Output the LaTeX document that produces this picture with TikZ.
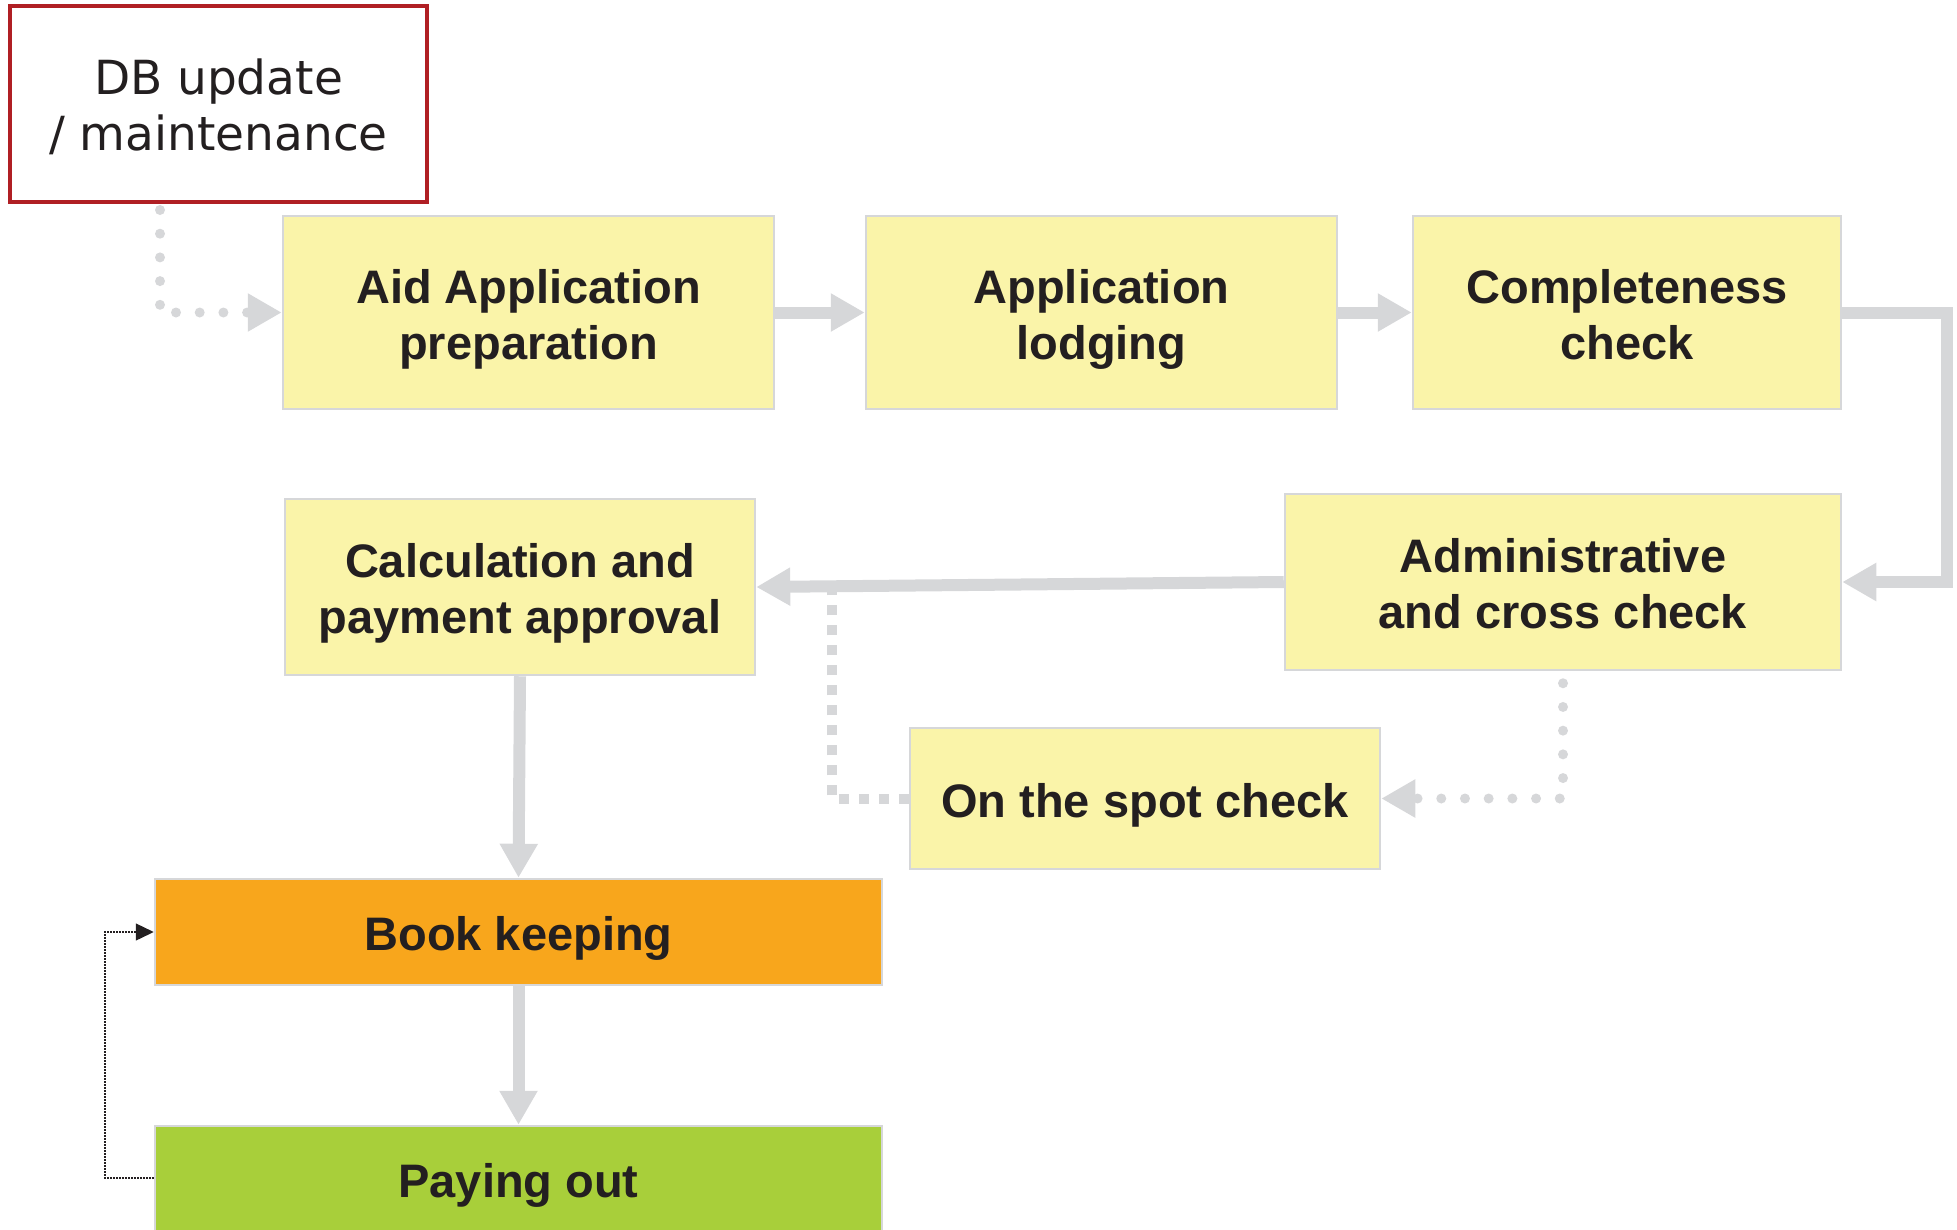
\documentclass[tikz,border=0pt]{standalone}
\usepackage{fontspec}
\setmainfont{Liberation Sans}
\newfontfamily\dbfont{DejaVu Sans}
\usetikzlibrary{arrows.meta,positioning,calc}
\definecolor{ink}{HTML}{231F20}
\definecolor{pale}{HTML}{FAF4A9}
\definecolor{bookcol}{HTML}{F8A61C}
\definecolor{paycol}{HTML}{A8CF3A}
\definecolor{edge}{HTML}{D6D7D9}
\definecolor{dbred}{HTML}{B01F24}
\tikzset{
  lift/.style={execute at begin node={\rule[-10pt]{0pt}{#1}}},
  box/.style={draw=edge, fill=pale, line width=2.5pt, align=center, inner sep=0pt,
              text=ink, font=\fontsize{47}{56}\selectfont\bfseries, lift=57pt},
  twobox/.style={box, lift=113pt},
  dbbox/.style={box, draw=dbred, fill=white, line width=4pt,
                font=\fontsize{47}{56}\selectfont\dbfont,
                execute at begin node={\rule{0pt}{103pt}}},
  bookbox/.style={box, fill=bookcol},
  paybox/.style={box, fill=paycol},
  ar/.style={-{Triangle[length=34pt,width=36pt]}, line width=12pt, draw=edge},
  ardot/.style={-{Triangle[length=34pt,width=36pt]}, line width=10pt, draw=edge,
                line cap=round, dash pattern=on 0pt off 23.7pt},
  arsq/.style={line width=10pt, draw=edge, dash pattern=on 10pt off 10pt},
  arthin/.style={-{Triangle[length=18pt,width=17pt]}, line width=1.4pt, draw=ink,
                 dash pattern=on 1.4pt off 1.6pt}
}

\begin{document}
\begin{tikzpicture}[x=1pt,y=-1pt]
  \useasboundingbox (0,0) rectangle (1957,1229);

  \node[dbbox, minimum width=417pt, minimum height=196pt] (db) at (218.5,104)
     {DB update\\/ maintenance};

  \node[twobox, minimum width=491pt, minimum height=193pt] (aid) at (528.5,312.5)
     {Aid Application\\preparation};
  \node[twobox, minimum width=471pt, minimum height=193pt] (lodge) at (1101.5,312.5)
     {Application\\lodging};
  \node[twobox, minimum width=428pt, minimum height=193pt] (compl) at (1627,312.5)
     {Completeness\\check};

  \node[twobox, minimum width=556pt, minimum height=176pt] (admin) at (1563,582)
     {Administrative\\and cross check};
  \node[twobox, minimum width=470pt, minimum height=176pt] (calc) at (520,587)
     {Calculation and\\payment approval};
  \node[box, minimum width=470pt, minimum height=141pt] (spot) at (1145,798.5)
     {On the spot check};

  \node[bookbox, minimum width=727pt, minimum height=106pt] (book) at (518.5,932)
     {Book keeping};
  \node[paybox, minimum width=727pt, minimum height=106pt] (pay) at (518.5,1179)
     {Paying out};

  % turning points
  \coordinate (dbturn) at (160,312.5);
  \coordinate (rturn) at (1947,312.5);
  \coordinate (spotturn) at (1563,798.5);
  \coordinate (sqturn) at (832,798.5);
  \coordinate (sqend) at (832,590);
  \coordinate (payturn) at (105,1178);

  \draw[ardot] ($(dbturn |- db.south)+(0,6)$) -- (dbturn) -- (aid.west);
  \draw[ar] (aid.east) -- (lodge.west);
  \draw[ar] (lodge.east) -- (compl.west);
  \draw[ar] (compl.east) -- (rturn) -- (rturn |- admin.east) -- (admin.east);
  \draw[arsq] (spot.west) -- (sqturn) -- (sqend);
  \draw[ar] (admin.west) -- (calc.east);
  \draw[ardot] ($(admin.south)+(0,12)$) -- (spotturn) -- (spot.east);
  \draw[ar] (calc.south) -- (book.north);
  \draw[ar] (book.south) -- (pay.north);
  \draw[arthin] (pay.west |- payturn) -- (payturn) -- (payturn |- book.west) -- (book.west);
\end{tikzpicture}
\end{document}
